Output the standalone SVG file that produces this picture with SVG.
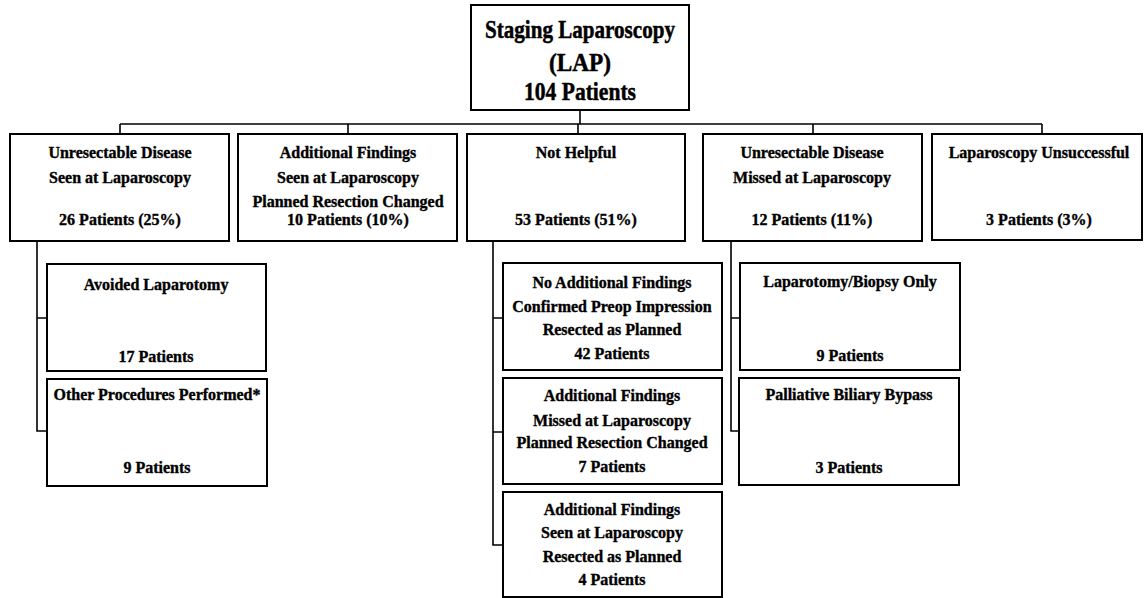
<svg xmlns="http://www.w3.org/2000/svg" width="1144" height="598" viewBox="0 0 1144 598">
<style>
.box{fill:#fff;stroke:#000;stroke-width:2}
.c{fill:none;stroke:#000;stroke-width:1.6}
text{font-family:"Liberation Serif","Times New Roman",serif;font-weight:bold;fill:#000;stroke:#000;stroke-width:0.35;text-anchor:middle;font-size:16px}
.t{font-size:26px;stroke-width:0.5}
</style>
<rect width="1144" height="598" fill="#fff"/>
<g id="connectors">
<path class="c" d="M580,110V124M120,124H1042M120,124V134M348,124V134M578,124V134M813,124V134M1042,124V134"/>
<path class="c" d="M37,241V431H47M37,318H47"/>
<path class="c" d="M493,240V545H503M493,318H503M493,432H503"/>
<path class="c" d="M731,240V431H740M731,318H740"/>
</g>
<g id="root">
<rect class="box" x="471" y="5" width="218" height="105"/>
<text class="t" x="580" y="38" textLength="190" lengthAdjust="spacingAndGlyphs">Staging Laparoscopy</text>
<text class="t" x="580" y="71" textLength="62" lengthAdjust="spacingAndGlyphs">(LAP)</text>
<text class="t" x="580" y="100" textLength="112" lengthAdjust="spacingAndGlyphs">104 Patients</text>
</g>
<g id="unresectable-seen">
<rect class="box" x="10" y="134" width="219" height="107"/>
<text x="120" y="158">Unresectable Disease</text>
<text x="120" y="183">Seen at Laparoscopy</text>
<text x="120" y="225">26 Patients (25%)</text>
</g>
<g id="additional-seen">
<rect class="box" x="238" y="134" width="219" height="107"/>
<text x="348" y="158">Additional Findings</text>
<text x="348" y="183">Seen at Laparoscopy</text>
<text x="348" y="207">Planned Resection Changed</text>
<text x="348" y="225">10 Patients (10%)</text>
</g>
<g id="not-helpful">
<rect class="box" x="467" y="134" width="218" height="107"/>
<text x="576" y="158">Not Helpful</text>
<text x="576" y="225">53 Patients (51%)</text>
</g>
<g id="unresectable-missed">
<rect class="box" x="703" y="134" width="219" height="107"/>
<text x="812" y="158">Unresectable Disease</text>
<text x="812" y="183">Missed at Laparoscopy</text>
<text x="812" y="225">12 Patients (11%)</text>
</g>
<g id="lap-unsuccessful">
<rect class="box" x="932" y="134" width="210" height="106"/>
<text x="1039" y="158">Laparoscopy Unsuccessful</text>
<text x="1039" y="225">3 Patients (3%)</text>
</g>
<g id="avoided-laparotomy">
<rect class="box" x="47" y="264" width="219" height="107"/>
<text x="156" y="290">Avoided Laparotomy</text>
<text x="156" y="362">17 Patients</text>
</g>
<g id="other-procedures">
<rect class="box" x="47" y="379" width="220" height="107"/>
<text x="157" y="400">Other Procedures Performed*</text>
<text x="157" y="473">9 Patients</text>
</g>
<g id="no-additional">
<rect class="box" x="503" y="263" width="219" height="107"/>
<text x="612" y="288">No Additional Findings</text>
<text x="612" y="312">Confirmed Preop Impression</text>
<text x="612" y="335">Resected as Planned</text>
<text x="612" y="359">42 Patients</text>
</g>
<g id="additional-missed">
<rect class="box" x="503" y="378" width="219" height="106"/>
<text x="612" y="401">Additional Findings</text>
<text x="612" y="426">Missed at Laparoscopy</text>
<text x="612" y="448">Planned Resection Changed</text>
<text x="612" y="472">7 Patients</text>
</g>
<g id="additional-seen-resected">
<rect class="box" x="503" y="492" width="219" height="105"/>
<text x="612" y="515">Additional Findings</text>
<text x="612" y="538">Seen at Laparoscopy</text>
<text x="612" y="562">Resected as Planned</text>
<text x="612" y="585">4 Patients</text>
</g>
<g id="laparotomy-biopsy">
<rect class="box" x="740" y="263" width="220" height="107"/>
<text x="850" y="287">Laparotomy/Biopsy Only</text>
<text x="850" y="361">9 Patients</text>
</g>
<g id="palliative-bypass">
<rect class="box" x="739" y="378" width="220" height="107"/>
<text x="849" y="400">Palliative Biliary Bypass</text>
<text x="849" y="473">3 Patients</text>
</g>
</svg>
